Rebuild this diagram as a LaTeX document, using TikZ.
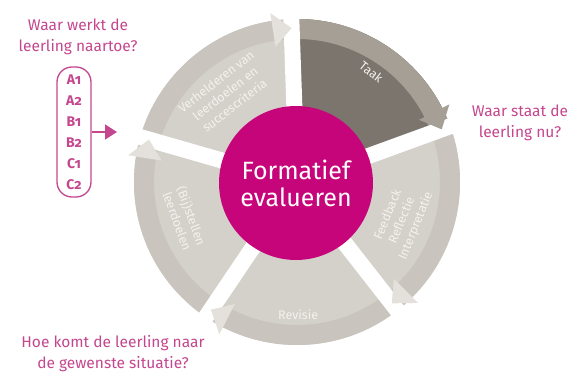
\documentclass[tikz,border=0pt]{standalone}
\usepackage{fontspec}
\setmainfont{Fira Sans}
\newfontfamily\levelfont[Numbers=OldStyle]{Fira Sans}
\usepackage{tikz}
\usetikzlibrary{arrows.meta,calc}

\definecolor{wheelpink}{HTML}{C7057B}
\definecolor{questpink}{HTML}{C4468E}
\definecolor{seglight}{HTML}{D4D0CA}
\definecolor{bandlight}{HTML}{C9C4BD}
\definecolor{headlight}{HTML}{E4E1DC}
\definecolor{segdark}{HTML}{7B756D}
\definecolor{banddark}{HTML}{A59F96}
\definecolor{segwhite}{HTML}{F4F2EF}

\begin{document}
\begin{tikzpicture}[
    x=1pt, y=1pt,
    question/.style={text=questpink, font=\fontsize{15.5}{21}\selectfont, align=center},
    segtext/.style={text=segwhite, font=\fontsize{12.5}{15}\selectfont, align=center},
    gapline/.style={white, line width=16pt},
    ring/.style={line width=20pt},
    levelbox/.style={draw=questpink, line width=1.3pt, rounded corners=15pt, minimum width=34pt, minimum height=130pt,
        text=questpink, align=center, font=\levelfont\bfseries\fontsize{14}{21}\selectfont},
    core/.style={circle, fill=wheelpink, minimum size=154pt, inner sep=0pt, text=white, align=center,
        font=\fontsize{25}{27}\selectfont}
]
    \useasboundingbox (0,0) rectangle (582,376);
    \coordinate (c) at (297,194);

    % Wheel
    \fill[seglight] (c) circle[radius=163pt];
    \draw[bandlight, ring] (c) circle[radius=153pt];

    % Taak segment
    \fill[segdark] (c) -- ++(92:163pt) arc[start angle=92, end angle=20, radius=163pt] -- cycle;
    \draw[banddark, ring] (c) ++(92:153pt) arc[start angle=92, end angle=20, radius=153pt];

    % Gaps
    \draw[gapline] (c) -- ++(92:190pt);
    \draw[gapline] (c) -- ++(20:190pt);
    \draw[gapline] (c) -- ++(-52:190pt);
    \draw[gapline] (c) -- ++(-124:190pt);
    \draw[gapline] (c) -- ++(164:190pt);

    % Arrow heads
    \fill[headlight] ($(c)+(99:137pt)$) -- ($(c)+(99:171pt)$) -- ($(c)+(92:154pt)$) -- cycle;
    \fill[banddark] ($(c)+(27:137pt)$) -- ($(c)+(27:171pt)$) -- ($(c)+(20:154pt)$) -- cycle;
    \fill[headlight] ($(c)+(-45:137pt)$) -- ($(c)+(-45:171pt)$) -- ($(c)+(-52:154pt)$) -- cycle;
    \fill[headlight] ($(c)+(-117:137pt)$) -- ($(c)+(-117:171pt)$) -- ($(c)+(-124:154pt)$) -- cycle;
    \fill[headlight] ($(c)+(171:137pt)$) -- ($(c)+(171:171pt)$) -- ($(c)+(164:154pt)$) -- cycle;

    % Centre
    \node[core] (core) at (296,193) {Formatief\\evalueren};

    % Segment labels
    \node[segtext, rotate=38] (verh) at ($(c)+(129:114pt)$) {Verhelderen van\\leerdoelen en\\succescriteria};
    \node[segtext, rotate=-38] (taak) at ($(c)+(56:133pt)$) {Taak};
    \node[segtext, rotate=68] (feedb) at ($(c)+(-20:112pt)$) {Feedback\\Reflectie\\Interpretatie};
    \node[segtext] (revis) at ($(c)+(-89.5:133pt)$) {Revisie};
    \node[segtext, rotate=-70] (bijst) at ($(c)+(198:118pt)$) {(Bij)stellen\\leerdoelen};

    % Questions
    \node[question] (q1) at (78,339) {Waar werkt de\\leerling naartoe?};
    \node[question] (q2) at (520,253) {Waar staat de\\leerling nu?};
    \node[question] (q3) at (113,22) {Hoe komt de leerling naar\\de gewenste situatie?};

    % Levels
    \node[levelbox] (levels) at (74,244) {A1\\A2\\B1\\B2\\C1\\C2};
    \coordinate (wheelin) at (117,244);
    \draw[questpink, line width=1.3pt, -{Triangle[length=12pt, width=15pt]}] (levels.east) -- (wheelin);
\end{tikzpicture}
\end{document}
